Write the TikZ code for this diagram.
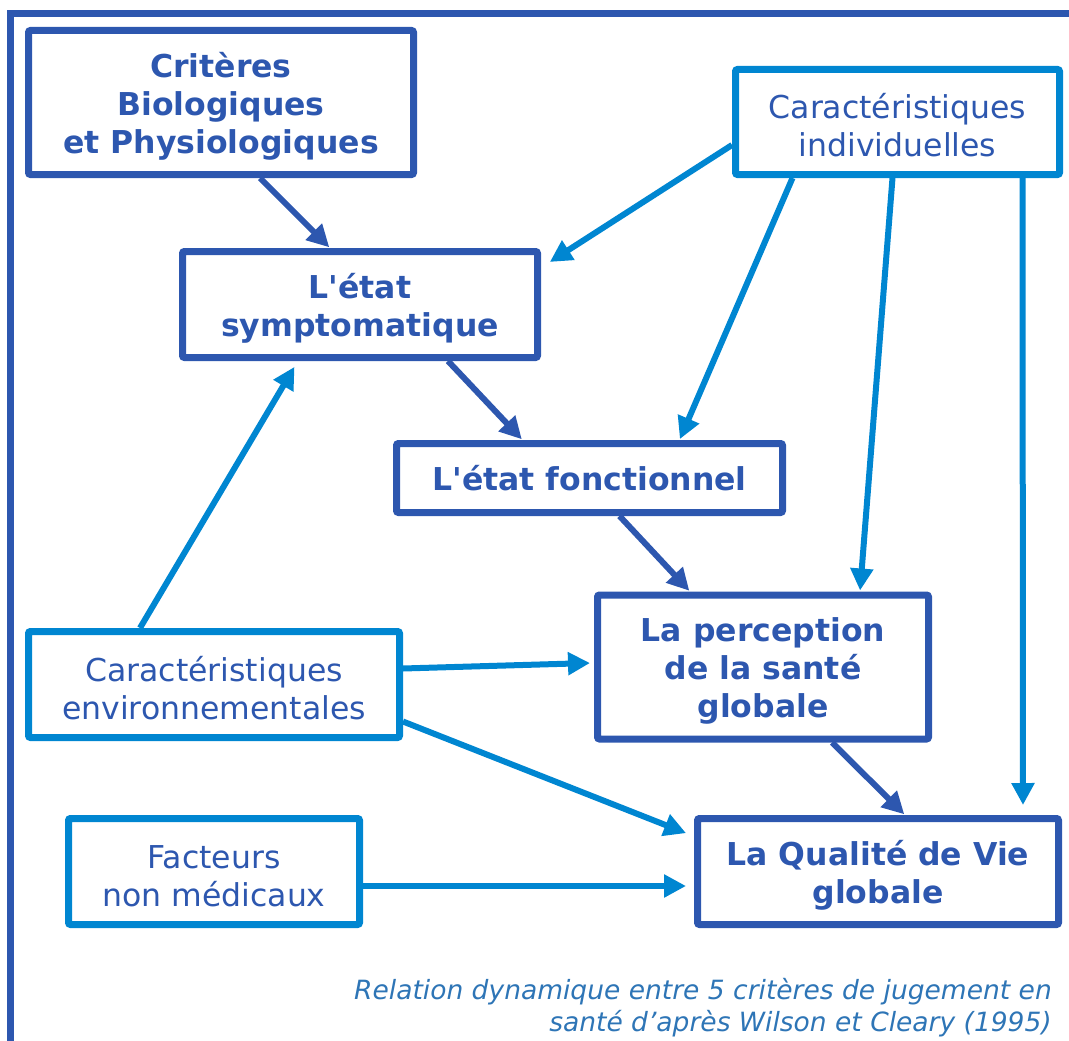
\documentclass[tikz,border=0pt]{standalone}
\usepackage{fontspec}
\setmainfont{DejaVu Sans}
\usetikzlibrary{arrows.meta}
\definecolor{dblue}{RGB}{45,87,175}
\definecolor{lblue}{RGB}{0,134,209}
\definecolor{capblue}{RGB}{46,117,182}
\newcommand\mystrut{\rule{0pt}{32pt}}
\begin{document}
\begin{tikzpicture}[x=1pt,y=-1pt,
  dbox/.style={draw=dblue,line width=7pt,rounded corners=2pt,align=center,text=dblue,
    font=\fontsize{31.5}{38}\selectfont\bfseries,inner sep=0pt},
  lbox/.style={draw=lblue,line width=7pt,rounded corners=2pt,align=center,text=dblue,
    font=\fontsize{31.5}{38}\selectfont,inner sep=0pt},
  darr/.style={draw=dblue,line width=6pt,-{Triangle[length=22pt,width=22pt]},shorten >=1pt},
  larr/.style={draw=lblue,line width=6pt,-{Triangle[length=22pt,width=22pt]},shorten >=1pt}]
\useasboundingbox (0,0) rectangle (1069,1041);
% outer frame (top and left)
\draw[dblue,line width=7pt] (10.5,1041) -- (10.5,13.5) -- (1069,13.5);
% boxes
\node[dbox,minimum width=385pt,minimum height=144pt] (crit) at (221,102.5) {\mystrut Critères\\Biologiques\\et Physiologiques};
\node[lbox,minimum width=324pt,minimum height=105pt] (ind) at (897.5,122) {\mystrut Caractéristiques\\individuelles};
\node[dbox,minimum width=355pt,minimum height=106pt] (symp) at (360,304.5) {\mystrut L\textquotesingle état\\symptomatique};
\node[dbox,minimum width=386pt,minimum height=69pt] (fonc) at (589.5,478) {L\textquotesingle état fonctionnel};
\node[dbox,minimum width=331pt,minimum height=144pt] (perc) at (763,667) {\mystrut La perception\\de la santé\\globale};
\node[lbox,minimum width=371pt,minimum height=106pt] (env) at (214,684.5) {\mystrut Caractéristiques\\environnementales};
\node[lbox,minimum width=291pt,minimum height=106pt] (fact) at (214,871.5) {\mystrut Facteurs\\non médicaux};
\node[dbox,minimum width=361pt,minimum height=106pt] (qual) at (878,871.5) {\mystrut La Qualité de Vie\\globale};
% dark arrows
\draw[darr] ([xshift=39pt]crit.south) -- ([xshift=-30pt]symp.north);
\draw[darr] ([xshift=88pt]symp.south) -- ([xshift=-67pt]fonc.north);
\draw[darr] ([xshift=30pt]fonc.south) -- ([xshift=-73pt]perc.north);
\draw[darr] ([xshift=69pt]perc.south) -- ([xshift=27pt]qual.north);
% light arrows
\draw[larr] ([yshift=-23pt]ind.west) -- ([xshift=8pt,yshift=42pt]symp.east);
\draw[larr] ([xshift=-105pt]ind.south) -- ([xshift=90pt]fonc.north);
\draw[larr] ([xshift=-5pt]ind.south) -- ([xshift=97pt]perc.north);
\draw[larr,shorten >=10pt] ([xshift=125pt]ind.south) -- ([xshift=145pt]qual.north);
\draw[larr] ([xshift=-74pt]env.north) -- ([xshift=-65pt,yshift=-5pt]symp.south);
\draw[larr] ([yshift=16pt]env.east) -- ([xshift=-3pt,yshift=4pt]perc.west);
\draw[larr] ([yshift=-37pt]env.east) -- ([xshift=-7pt,yshift=38pt]qual.west);
\draw[larr] ([yshift=-14.5pt]fact.east) -- ([xshift=-7pt,yshift=-14.5pt]qual.west);
% caption
\node[anchor=east,align=right,text=capblue,inner sep=0pt,
  font=\fontsize{26.5}{32}\selectfont\itshape] (cap) at (1052,1008)
  {Relation dynamique entre 5 critères de jugement en\\santé d’après Wilson et Cleary (1995)};
\end{tikzpicture}
\end{document}
